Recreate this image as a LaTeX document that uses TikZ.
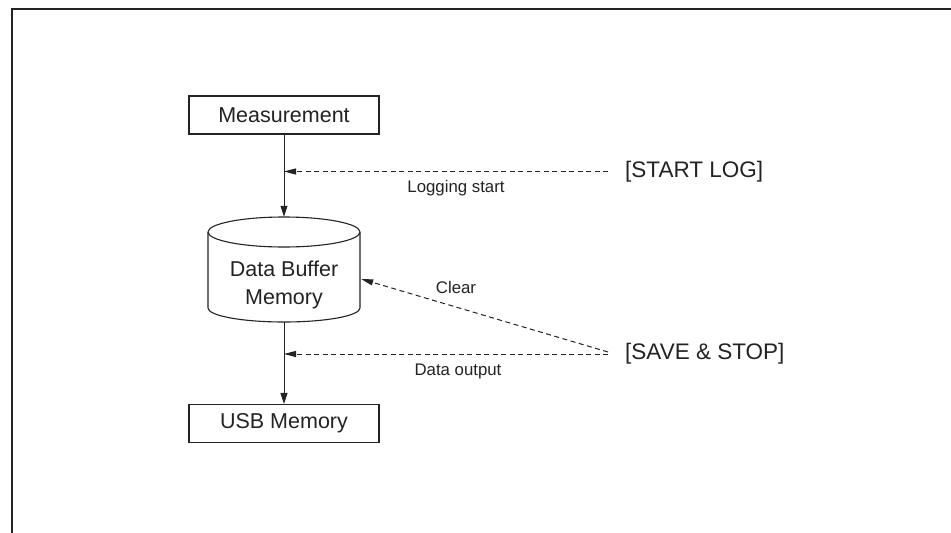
\documentclass[tikz,border=0pt]{standalone}
\usepackage{fontspec}
\setmainfont{Liberation Sans}
\usetikzlibrary{arrows.meta,calc}
\definecolor{ink}{RGB}{35,35,35}
\begin{document}
\begin{tikzpicture}[x=1pt,y=-1pt,
  box/.style={draw=ink,line width=1.1pt,minimum width=190pt,minimum height=38pt,inner sep=0pt,text=ink,font=\fontsize{21.5}{24}\selectfont},
  big/.style={inner sep=0pt,text=ink,font=\fontsize{22.5}{26}\selectfont},
  small/.style={inner sep=0pt,text=ink,font=\fontsize{16.8}{19}\selectfont},
  flow/.style={draw=ink,line width=1pt,-{Triangle[length=11pt,width=7pt]}},
  trig/.style={draw=ink,line width=1pt,dash pattern=on 5pt off 3.5pt,-{Triangle[length=12pt,width=6pt]}}]
\useasboundingbox (0,0) rectangle (951,533);
\fill[white] (0,0) rectangle (951,533);
% frame
\draw[ink,line width=2.2pt] (951,9) -- (12,9) -- (12,533);
% nodes
\node[box] (meas) at (284,115) {Measurement};
\node[box] (usb) at (284,423.5) {USB Memory};
\node[minimum width=152pt,minimum height=105pt,inner sep=0pt] (buf) at (284,269.5) {};
\draw[ink,line width=1.1pt] (208,232) -- (208,308) arc[start angle=180,end angle=360,x radius=76pt,y radius=14pt] -- (360,232);
\draw[ink,line width=1.1pt] (284,232) ellipse [x radius=76pt,y radius=15pt];
\node[align=center,inner sep=0pt,text=ink,font=\fontsize{21.5}{28}\selectfont] (buflabel) at (284,285) {Data Buffer\\Memory};
\node[big,anchor=west] (startlog) at (625,171.5) {[START LOG]};
\node[big,anchor=west] (savestop) at (625,354) {[SAVE \& STOP]};
\coordinate (sl) at ($(startlog.west)+(-17,0)$);
\coordinate (ss) at ($(savestop.west)+(-17,0)$);
\coordinate (cleartip) at ($(buf.east)+(1,9.5)$);
% labels
\node[small] (lstart) at (456,188) {Logging start};
\node[small] (lclear) at (456,287) {Clear};
\node[small] (lout) at (458,371) {Data output};
% connectors
\draw[flow] (meas.south) -- (buf.north);
\draw[flow] (buf.south) -- (usb.north);
\draw[trig] (sl) -- (sl -| meas.south);
\draw[trig] (ss) -- (ss -| buf.south);
\draw[trig] ($(ss)+(0,-2)$) -- (cleartip);
\end{tikzpicture}
\end{document}
